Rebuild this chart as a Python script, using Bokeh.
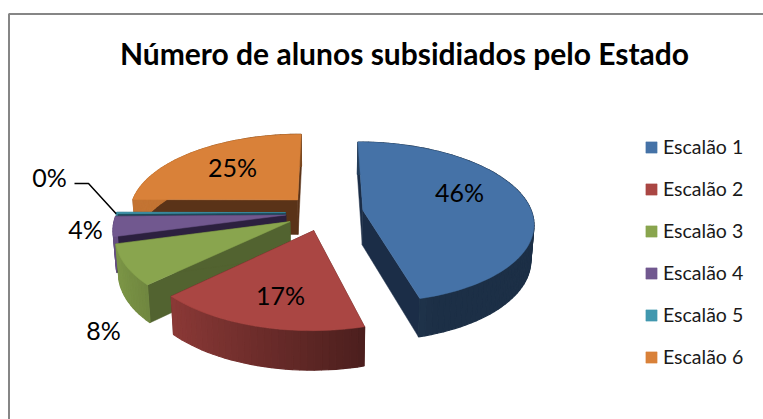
import math
from bokeh.plotting import figure
from bokeh.models import Legend, LegendItem
from bokeh.core.properties import value
from bokeh.embed import file_html
from bokeh.resources import INLINE

title = "Número de alunos subsidiados pelo Estado"
categories = ["Escalão 1", "Escalão 2", "Escalão 3", "Escalão 4", "Escalão 5", "Escalão 6"]
shares = [46, 17, 8, 4, 0.3, 25]
colors = ["#4572A7", "#AA4643", "#89A54E", "#71588F", "#4198AF", "#D98139"]
cut_colors = ["#1B2D47", "#4B1E1C", "#526330", "#2C203F", "#1D4A5A", "#5A3318"]
label_xy = [(459, 191), (280, 294), (103, 329), (85, 228), (49, 176), (232, 166)]

# projection of the 3D pie (screen pixels)
CX, CY, RX, RY, K, EXPL = 324, 212, 169, 79, 0.15, 0.23
W, H = 763, 419

p = figure(width=W, height=H, x_range=(0, W), y_range=(H, 0),
           output_backend="svg", toolbar_location=None, min_border=0,
           outline_line_color=None, background_fill_color="white",
           border_fill_color="white")
p.xaxis.visible = False
p.yaxis.visible = False
p.grid.visible = False


def project(X, Y):
    s = 1 / (1 + K * Y)
    return CX + RX * X * s, CY - RY * Y * s, s


def lower(pt):
    x, y, s = pt
    return CX + (x - CX) * 0.985, y + 35 + 20 * (s - 1)


def shade(col, f):
    r, g, b = (int(col[i:i + 2], 16) for i in (1, 3, 5))
    return "#%02x%02x%02x" % (int(r * f), int(g * f), int(b * f))


total = sum(shares)
spans = []
a = 0.0
for v in shares:
    spans.append((a, a + v / total * 360))
    a += v / total * 360

draw_order = [5, 4, 3, 2, 1, 0]
legend_renderers = {}
teal_rim = None
for i in draw_order:
    a0, a1 = spans[i]
    mid = math.radians((a0 + a1) / 2)
    ex, ey = EXPL * math.sin(mid), EXPL * math.cos(mid)
    apex = project(ex, ey)
    n = max(2, int((a1 - a0) / 2))
    thetas = [math.radians(a0 + (a1 - a0) * j / n) for j in range(n + 1)]
    rim = [project(ex + math.sin(t), ey + math.cos(t)) for t in thetas]
    if i == 4:
        teal_rim = rim[0]

    # cut faces
    for end in (rim[0], rim[-1]):
        bx, by = lower(end)
        ax, ay = lower(apex)
        p.patch([apex[0], end[0], bx, ax], [apex[1], end[1], by, ay],
                fill_color=cut_colors[i], line_color=cut_colors[i], line_width=0.5)
    # outer wall, shaded along the rim
    for j in range(n):
        t = thetas[j]
        f = max(0.42, min(0.9, 0.55 - 0.38 * math.sin(t)))
        b0, b1 = lower(rim[j]), lower(rim[j + 1])
        c = shade(colors[i], f)
        p.patch([rim[j][0], rim[j + 1][0], b1[0], b0[0]],
                [rim[j][1], rim[j + 1][1], b1[1], b0[1]],
                fill_color=c, line_color=c, line_width=1.2)
    # top face
    r = p.patch([apex[0]] + [q[0] for q in rim], [apex[1]] + [q[1] for q in rim],
                fill_color=colors[i], line_color=colors[i], line_width=0.5)
    legend_renderers[i] = r

# chart frame
p.line([8.5, 8.5, W], [H, 13.5, 13.5], line_color="#868686", line_width=2)

# leader of the 0% label
lx, ly = label_xy[4]
p.line([lx + 25, lx + 39, teal_rim[0]], [ly + 7, ly + 7, teal_rim[1]],
       line_color="black", line_width=1.5)

# data labels
p.text([q[0] for q in label_xy], [q[1] for q in label_xy],
       text=[f"{round(v)}%" for v in shares], text_font=value("Lato"),
       text_font_size="25px", text_color="black", text_align="center",
       text_baseline="middle")

p.text([404], [52], text=[title], text_font=value("Lato"), text_font_style="bold",
       text_font_size="30px", text_color="black", text_align="center",
       text_baseline="middle")

legend = Legend(items=[LegendItem(label=c, renderers=[legend_renderers[i]])
                       for i, c in enumerate(categories)],
                location=(644, 51), orientation="vertical",
                border_line_alpha=0, background_fill_alpha=0, margin=0, padding=0,
                glyph_width=14, glyph_height=14, label_standoff=5, spacing=19,
                label_text_font="Lato", label_text_font_size="19.5px",
                label_text_color="#1a1a1a")
p.add_layout(legend, "center")

open("out.html", "w").write(file_html(p, INLINE))
